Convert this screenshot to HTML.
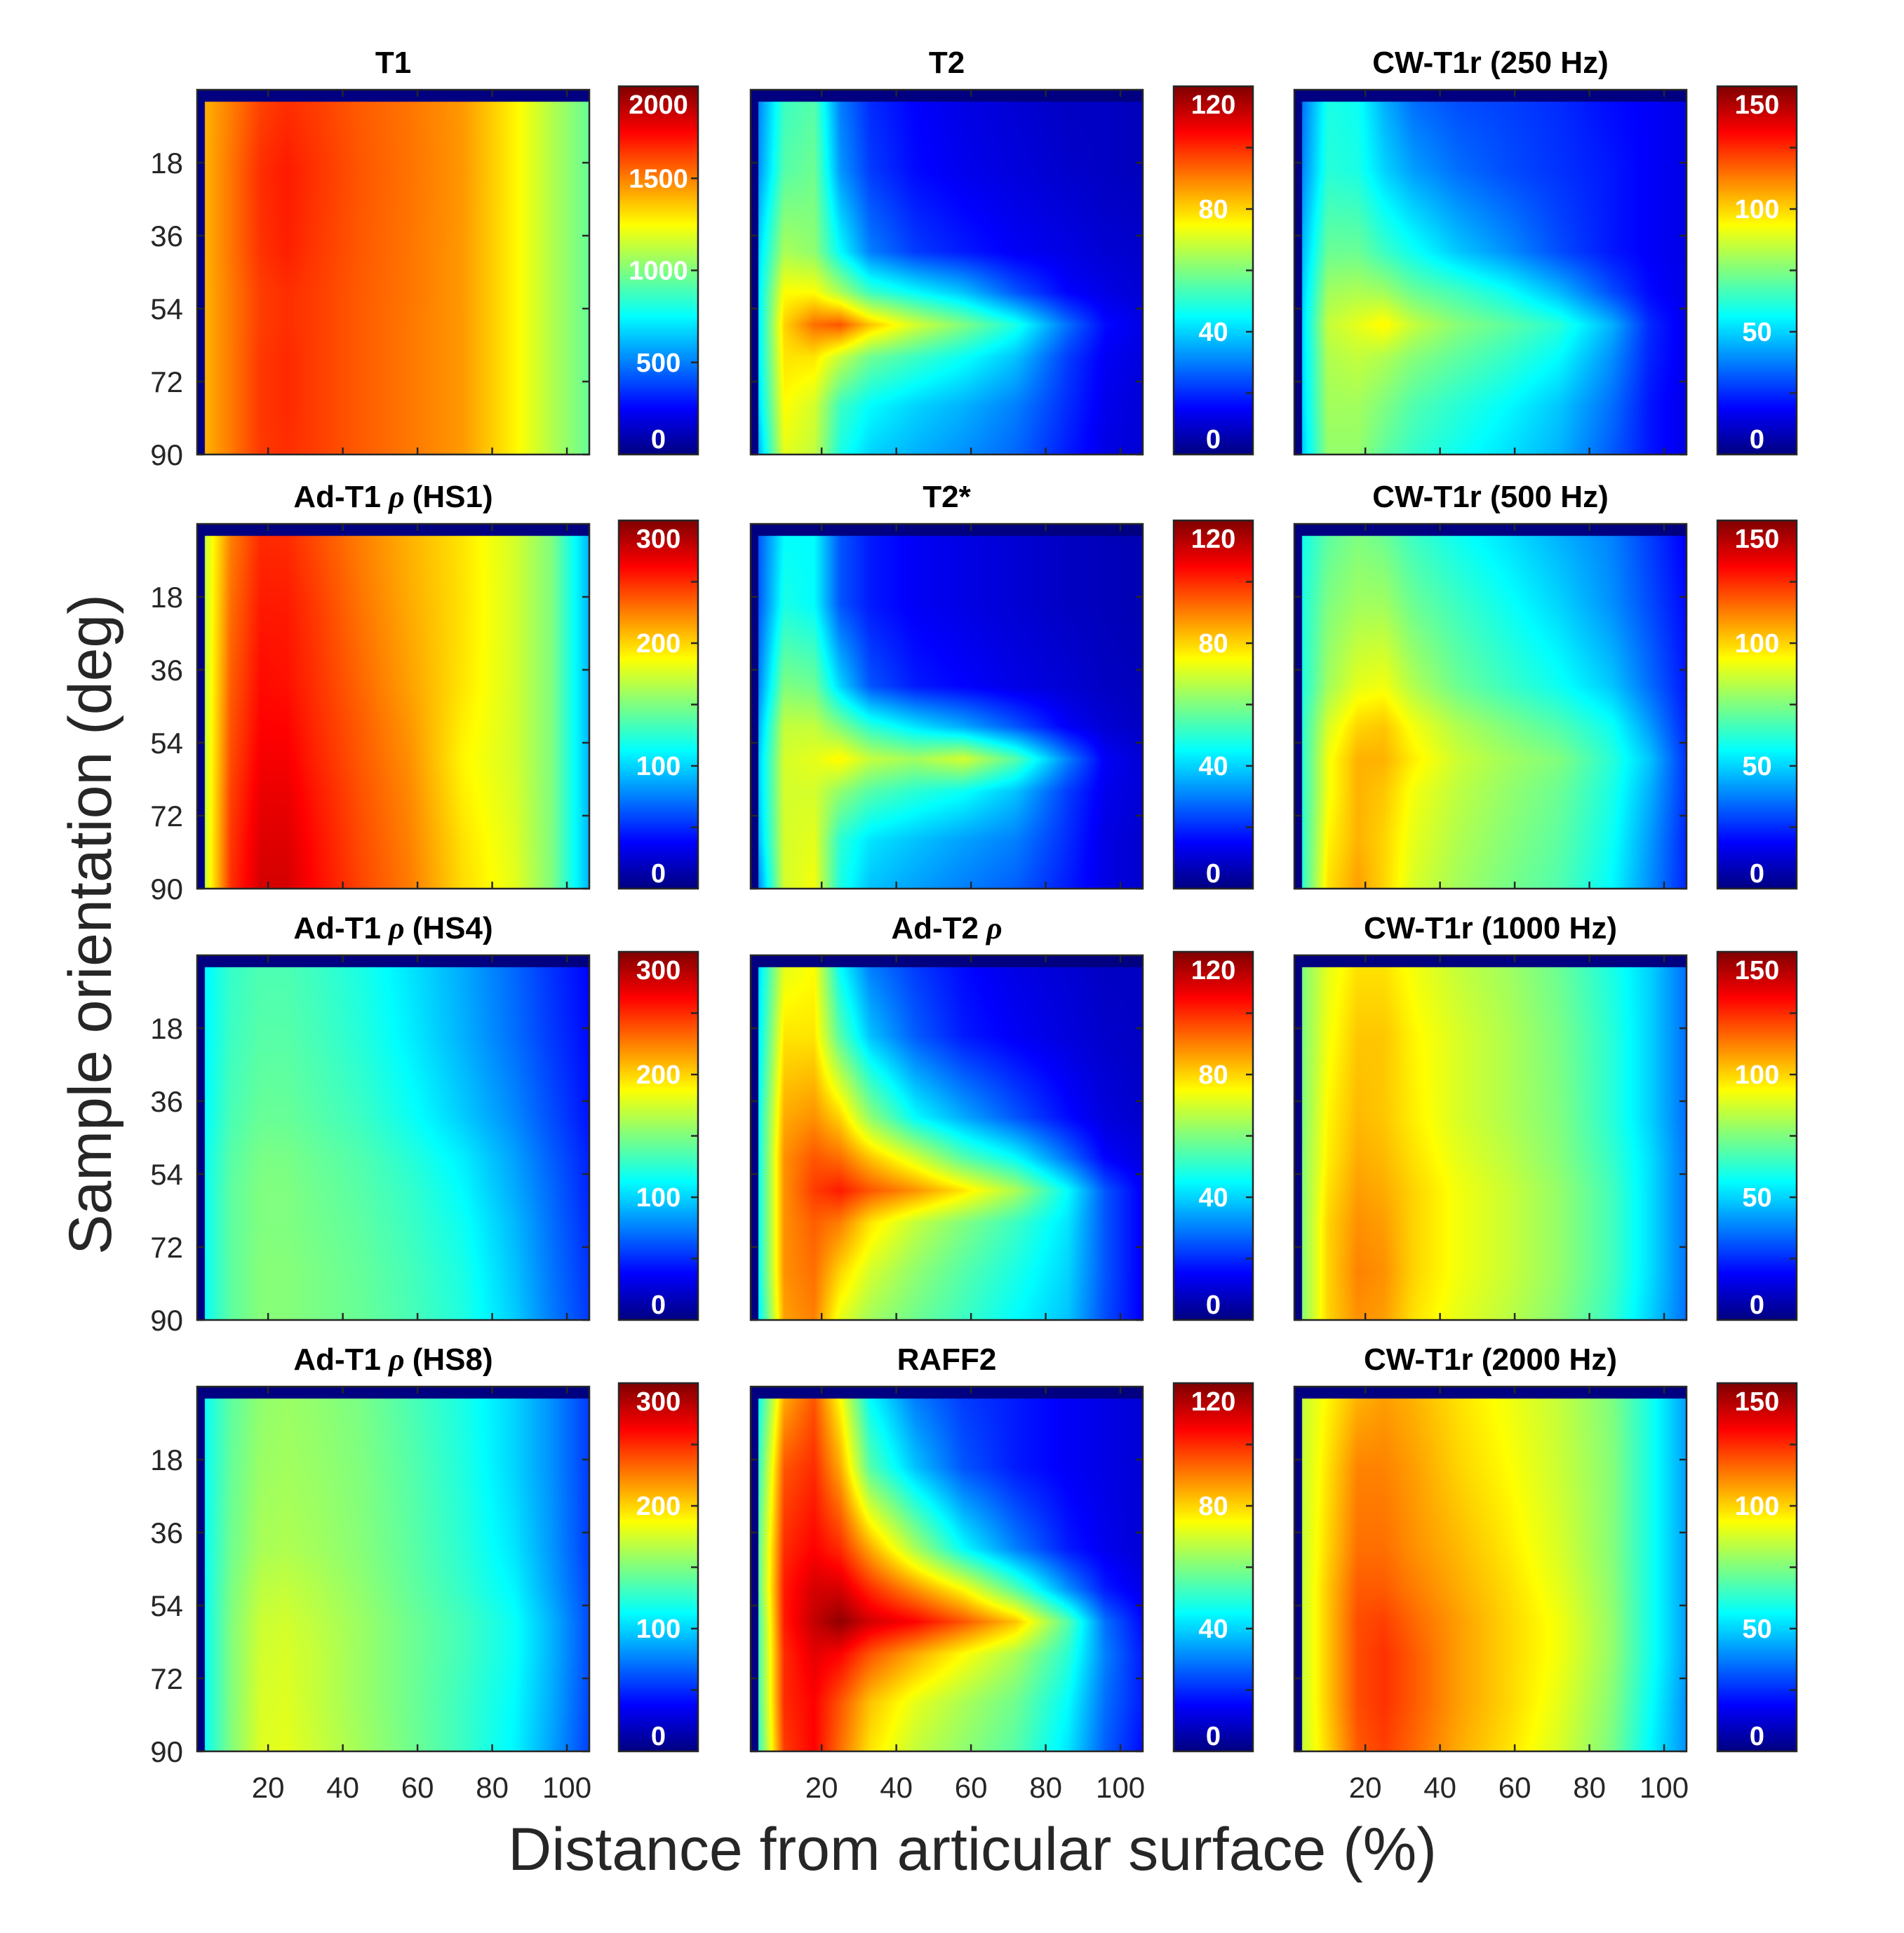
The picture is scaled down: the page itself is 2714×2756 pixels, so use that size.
<!DOCTYPE html>
<html><head><meta charset="utf-8">
<style>
html,body{margin:0;padding:0;background:#fff;}
#wrap{position:relative;width:2714px;height:2756px;overflow:hidden;background:#fff;}
canvas{position:absolute;}
svg{position:absolute;left:0;top:0;}
text{font-family:"Liberation Sans Narrow","Liberation Sans",sans-serif;}
</style></head>
<body>
<div id="wrap">
<svg id="svg" width="2714" height="2756"></svg>
</div>
<script>
// ---- shared grid (distance %, orientation deg) ----
const distances = [3, 10, 18, 25, 33, 45, 58, 72, 86, 96, 106];
const angles = [3, 20, 40, 50, 58, 66, 78, 90];
const yTickLabels = [18, 36, 54, 72, 90];
const xTickLabels = [20, 40, 60, 80, 100];

const titles = ["T1","T2","CW-T1r (250 Hz)","Ad-T1ρ (HS1)","T2*","CW-T1r (500 Hz)","Ad-T1ρ (HS4)","Ad-T2ρ","CW-T1r (1000 Hz)","Ad-T1ρ (HS8)","RAFF2","CW-T1r (2000 Hz)"];
const cbMax = [2000,120,150,300,120,150,300,120,150,300,120,150];
const cbLabelStep = [500,40,50,100,40,50,100,40,50,100,40,50];
const cbTickStep = [500,20,25,50,20,25,50,20,25,50,20,25];

const valuesT1 = [
[1400,1500,1620,1660,1630,1570,1520,1450,1270,1100,950],
[1400,1520,1660,1700,1650,1580,1525,1455,1270,1100,950],
[1400,1520,1650,1690,1640,1575,1520,1450,1270,1100,950],
[1400,1510,1630,1660,1630,1570,1520,1450,1270,1100,950],
[1400,1510,1630,1660,1630,1570,1515,1450,1270,1100,950],
[1400,1510,1640,1670,1630,1570,1515,1450,1270,1100,950],
[1400,1510,1640,1670,1630,1570,1515,1450,1270,1100,950],
[1400,1510,1640,1660,1630,1570,1515,1450,1270,1100,950]];
const valuesT2 = [
[30,52,55,30,20,15,12,10,8,8,7],
[32,55,58,33,22,16,13,11,9,8,7],
[40,65,62,45,30,22,18,14,12,10,9],
[42,75,75,65,52,45,38,25,15,12,10],
[42,80,92,95,82,70,60,48,28,16,12],
[42,78,78,68,58,52,46,38,22,14,11],
[40,75,70,52,45,40,36,30,20,13,10],
[35,72,68,48,40,36,32,27,18,12,10]];
const valuesCW250 = [
[35,60,58,45,35,30,28,25,20,18,15],
[38,62,60,50,42,35,30,26,22,18,15],
[45,72,72,65,58,48,40,30,22,18,15],
[48,80,82,80,72,66,58,46,30,20,15],
[50,85,90,95,85,76,70,62,45,25,16],
[50,82,85,82,76,70,64,56,40,24,16],
[50,80,80,75,68,62,56,48,35,22,15],
[48,78,78,70,64,58,52,45,32,22,15]];
const valuesHS1 = [
[170,225,250,250,240,225,210,195,175,150,90],
[170,230,255,255,245,228,212,196,175,150,90],
[170,235,260,258,248,232,215,195,175,150,90],
[170,238,262,262,250,235,218,192,175,150,90],
[170,240,265,265,252,236,220,190,175,150,90],
[170,243,268,268,255,238,222,192,176,150,90],
[170,246,272,272,258,240,224,196,178,150,90],
[170,248,275,275,260,242,226,198,180,150,90]];
const valuesT2s = [
[25,45,45,25,18,14,12,10,8,7,6],
[25,48,45,25,18,14,12,10,8,7,6],
[30,60,58,40,25,18,15,12,10,8,7],
[35,68,68,60,50,42,35,25,14,10,8],
[38,70,72,76,68,64,70,55,30,14,10],
[38,70,70,62,55,50,46,38,22,13,10],
[36,70,72,50,42,38,34,30,20,12,9],
[30,70,74,48,38,34,30,26,18,12,9]];
const valuesCW500 = [
[58,70,75,72,65,58,52,45,38,28,18],
[60,75,80,80,72,65,58,50,40,30,20],
[60,80,90,92,82,72,65,58,48,35,22],
[62,88,100,102,92,82,75,68,58,42,24],
[62,92,105,105,96,86,80,75,62,48,26],
[62,92,105,102,92,84,78,72,60,45,26],
[62,95,105,100,90,82,76,70,58,42,24],
[62,98,108,100,88,80,74,68,56,40,24]];
const valuesHS4 = [
[110,128,135,135,130,120,105,88,68,52,38],
[110,130,138,138,133,123,108,90,70,54,40],
[112,134,143,143,138,130,116,98,78,60,43],
[115,138,148,148,143,136,124,108,85,65,47],
[115,140,150,150,145,138,128,112,88,68,48],
[115,140,150,150,146,140,130,116,92,70,50],
[115,140,152,152,148,142,133,120,95,72,52],
[115,140,152,152,148,143,134,122,98,74,54]];
const valuesT2rho = [
[40,72,75,45,30,22,16,12,10,8,8],
[42,78,78,55,38,26,18,14,11,9,8],
[45,85,88,80,62,45,35,25,16,11,9],
[45,88,95,92,82,70,55,45,28,15,11],
[45,88,98,102,95,88,78,65,45,25,14],
[45,88,94,90,78,68,60,52,42,25,14],
[45,88,92,80,70,62,55,48,40,25,14],
[42,86,90,72,64,58,52,45,38,24,14]];
const valuesCW1000 = [
[75,90,98,98,92,85,80,72,60,50,35],
[75,92,102,102,95,88,82,74,62,50,35],
[75,95,104,102,96,88,82,75,62,50,35],
[76,96,106,104,98,90,84,76,64,52,36],
[76,98,108,106,100,92,86,78,66,52,36],
[76,100,110,108,100,92,86,78,66,52,36],
[76,100,112,110,100,92,86,78,66,52,36],
[76,100,110,108,98,90,84,76,64,50,35]];
const valuesHS8 = [
[115,140,155,158,155,148,135,120,100,80,55],
[115,142,158,160,157,150,138,122,100,80,55],
[115,145,162,164,160,152,140,125,105,82,55],
[115,148,168,170,165,155,142,128,110,85,58],
[115,150,172,174,168,158,145,132,115,90,60],
[115,150,174,176,170,158,145,132,115,90,60],
[115,150,176,178,170,158,145,130,112,88,58],
[115,150,178,180,172,160,146,130,110,85,56]];
const valuesRAFF2 = [
[45,85,95,75,45,30,22,18,14,12,10],
[50,95,100,85,55,38,25,18,14,12,10],
[55,100,105,100,85,65,45,30,18,13,10],
[55,102,110,110,100,88,75,55,32,18,12],
[52,102,112,118,110,105,95,82,55,28,16],
[52,100,108,105,95,85,75,65,50,30,18],
[52,100,105,95,82,72,65,58,45,28,18],
[50,98,105,92,78,68,62,55,42,26,16]];
const valuesCW2000 = [
[85,95,105,108,105,98,92,85,75,60,42],
[85,98,112,112,108,100,94,86,76,60,42],
[85,100,115,115,110,104,97,88,76,60,42],
[85,102,118,118,113,106,99,90,77,60,42],
[85,102,120,122,116,108,100,92,78,60,42],
[85,102,120,124,118,108,100,92,78,60,42],
[85,102,120,124,118,108,100,90,76,58,40],
[85,100,118,122,116,106,98,88,74,56,40]];

const panelValues = [valuesT1,valuesT2,valuesCW250,valuesHS1,valuesT2s,valuesCW500,valuesHS4,valuesT2rho,valuesCW1000,valuesHS8,valuesRAFF2,valuesCW2000];

// ---- layout ----
const colX = [281, 1070, 1845], plotW = 559;
const cbX = [882, 1673, 2448], cbW = 113;
const rowY = [128, 747, 1362, 1977], plotH = 520;
const X0 = 1, X1 = 106, Y0 = 0, Y1 = 90;

const NS = "http://www.w3.org/2000/svg";
const svg = document.getElementById('svg');
const wrap = document.getElementById('wrap');
function el(tag, attrs, parent){const e=document.createElementNS(NS,tag);for(const k in attrs)e.setAttribute(k,attrs[k]);(parent||svg).appendChild(e);return e;}

function jet(f){
  f=Math.max(0,Math.min(1,f));
  const r=Math.max(0,Math.min(1,Math.min(4*f-1.5,-4*f+4.5)));
  const g=Math.max(0,Math.min(1,Math.min(4*f-0.5,-4*f+3.5)));
  const b=Math.max(0,Math.min(1,Math.min(4*f+0.5,-4*f+2.5)));
  return [r*255,g*255,b*255];
}
function locate(arr,v){
  if(v<=arr[0])return [0,0];
  for(let i=0;i<arr.length-1;i++){if(v<=arr[i+1])return [i,(v-arr[i])/(arr[i+1]-arr[i])];}
  return [arr.length-2,1];
}
function interp(vals,x,y){
  const [i,tx]=locate(distances,x),[j,ty]=locate(angles,y);
  const a=vals[j][i],b=vals[j][i+1],c=vals[j+1][i],d=vals[j+1][i+1];
  return (a*(1-tx)+b*tx)*(1-ty)+(c*(1-tx)+d*tx)*ty;
}

for(let p=0;p<12;p++){
  const r=Math.floor(p/3), c=p%3;
  const px=colX[c], py=rowY[r];
  const xs=v=>px+(v-X0)/(X1-X0)*plotW;
  const ys=v=>py+(v-Y0)/(Y1-Y0)*plotH;
  const g=el('g',{});
  
  

  const cv=document.createElement('canvas');
  cv.width=plotW; cv.height=plotH;
  cv.style.left=px+'px'; cv.style.top=py+'px';
  
  
  wrap.insertBefore(cv,svg);
  const ctx=cv.getContext('2d');
  ctx.fillStyle='rgb(0,0,128)'; ctx.fillRect(0,0,plotW,plotH);
  const hx0=Math.round(xs(distances[0])-px), hx1=Math.round(xs(distances[distances.length-1])-px);
  const hy0=Math.round(ys(angles[0])-py), hy1=Math.round(ys(angles[angles.length-1])-py);
  const w=Math.min(plotW,hx1)-hx0, h=Math.min(plotH,hy1)-hy0;
  const img=ctx.createImageData(w,h);
  const vals=panelValues[p], mx=cbMax[p];
  for(let yy=0;yy<h;yy++){
    const ang=Y0+(yy+hy0+0.5)/plotH*(Y1-Y0);
    for(let xx=0;xx<w;xx++){
      const d=X0+(xx+hx0+0.5)/plotW*(X1-X0);
      const col=jet(interp(vals,d,ang)/mx);
      const k=(yy*w+xx)*4;
      img.data[k]=col[0];img.data[k+1]=col[1];img.data[k+2]=col[2];img.data[k+3]=255;
    }
  }
  ctx.putImageData(img,hx0,hy0);

  const fr=el('rect',{x:px,y:py,width:plotW,height:plotH,fill:'none',stroke:'#262626','stroke-width':2.5},g);
  
  
  yTickLabels.forEach(t=>{
    const y=ys(t);
    el('line',{x1:px,x2:px+10,y1:y,y2:y,stroke:'#262626','stroke-width':2.5},g);
    el('line',{x1:px+plotW,x2:px+plotW-10,y1:y,y2:y,stroke:'#262626','stroke-width':2.5},g);
    if(c===0){
      const tl=el('text',{x:px-20,y:y+15,'font-size':42,fill:'#262626','text-anchor':'end'},g);
      tl.textContent=t;
      
      
    }
  });
  xTickLabels.forEach(t=>{
    const x=xs(t);
    el('line',{x1:x,x2:x,y1:py,y2:py+10,stroke:'#262626','stroke-width':2.5},g);
    el('line',{x1:x,x2:x,y1:py+plotH,y2:py+plotH-10,stroke:'#262626','stroke-width':2.5},g);
    if(r===3){
      const tl=el('text',{x:x,y:py+plotH+66,'font-size':42,fill:'#262626','text-anchor':'middle'},g);
      tl.textContent=t;
      
      
    }
  });
  const tt=el('text',{x:px+plotW/2,y:py-24,'font-size':44,'font-weight':'bold',fill:'#000','text-anchor':'middle'},g);
  
  
  const parts=titles[p].split('ρ');
  tt.appendChild(document.createTextNode(parts[0]));
  if(parts.length>1){
    const ts=document.createElementNS(NS,'tspan');
    ts.setAttribute('font-family','"Liberation Serif",serif');
    ts.setAttribute('font-style','italic');
    ts.textContent=' ρ ';
    tt.appendChild(ts);
    tt.appendChild(document.createTextNode(parts[1].trim()));
  }

  const cx=cbX[c], cy=py-5, ch=plotH+5;
  const cb=document.createElement('canvas');
  cb.width=cbW; cb.height=ch;
  cb.style.left=cx+'px'; cb.style.top=cy+'px';
  
  
  wrap.insertBefore(cb,svg);
  const cctx=cb.getContext('2d');
  for(let yy=0;yy<ch;yy++){
    const col=jet(1-(yy+0.5)/ch);
    cctx.fillStyle='rgb('+col.map(Math.round).join(',')+')';
    cctx.fillRect(0,yy,cbW,1);
  }
  el('rect',{x:cx,y:cy,width:cbW,height:ch,fill:'none',stroke:'#262626','stroke-width':2.5},g);
  const cys=v=>cy+ch-(v/cbMax[p])*ch;
  for(let v=cbTickStep[p];v<cbMax[p];v+=cbTickStep[p]){
    el('line',{x1:cx+cbW,x2:cx+cbW-10,y1:cys(v),y2:cys(v),stroke:'#262626','stroke-width':2.5},g);
  }
  for(let v=0;v<=cbMax[p];v+=cbLabelStep[p]){
    let y=cys(v);
    y=Math.max(cy+26,Math.min(cy+ch-22,y));
    const lt=el('text',{x:cx+cbW/2,y:y+13,'font-size':38,'font-weight':'bold',fill:'#fff','text-anchor':'middle'},g);
    lt.textContent=v;
    
    
  }
}

const xl=el('text',{x:1386,y:2666,'font-size':86,fill:'#262626','text-anchor':'middle','font-family':'"Liberation Sans",sans-serif'});
xl.textContent='Distance from articular surface (%)';


const yl=el('text',{x:0,y:0,'font-size':86,fill:'#262626','text-anchor':'middle','font-family':'"Liberation Sans",sans-serif',transform:'translate(158,1318) rotate(-90)'});
yl.textContent='Sample orientation (deg)';


</script>
</body></html>
